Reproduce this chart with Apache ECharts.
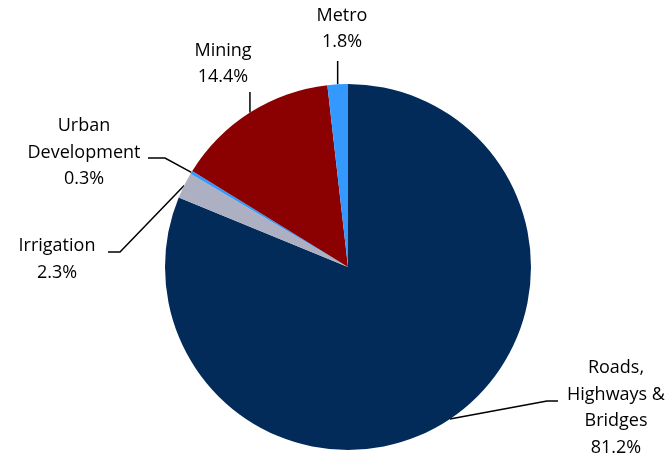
<!DOCTYPE html>
<html>
<head>
<meta charset="utf-8">
<script src="https://cdn.jsdelivr.net/npm/echarts@6/dist/echarts.min.js"></script>
<style>
html,body{margin:0;padding:0;background:#fff;}
#chart{width:669px;height:460px;}
</style>
</head>
<body>
<div id="chart"></div>
<script>
var categories = ['Roads,\nHighways &\nBridges', 'Irrigation', 'Urban\nDevelopment', 'Mining', 'Metro'];
var values = [81.2, 2.3, 0.3, 14.4, 1.8];
var valueLabels = ['81.2%', '2.3%', '0.3%', '14.4%', '1.8%'];
var colors = ['#032B5A', '#ADB0C2', '#3399FF', '#8B0000', '#3399FF'];

// label placement (layout only)
var labelPos = [
  {x: 616, y: 408, line: [[547, 401], [558, 401]]},
  {x: 57, y: 259.5, line: [[120, 252], [108, 252]]},
  {x: 84, y: 152.5, line: [[165, 158], [148, 158]]},
  {x: 223, y: 64, line: [[252, 92], [252, 92]]},
  {x: 342, y: 29, line: [[340, 61], [340, 61]]}
];

var chart = echarts.init(document.getElementById('chart'), null, {renderer: 'canvas'});
var data = categories.map(function (c, i) {
  return {name: c, value: values[i], itemStyle: {color: colors[i]}};
});
chart.setOption({
  animation: false,
  backgroundColor: '#fff',
  series: [{
    type: 'pie',
    center: [348, 267],
    radius: 183,
    startAngle: 90,
    clockwise: true,
    data: data,
    itemStyle: {borderWidth: 0},
    label: {
      show: true,
      formatter: function (p) { return p.name + '\n' + valueLabels[p.dataIndex]; },
      fontFamily: 'Open Sans',
      fontSize: 18,
      lineHeight: 26.7,
      color: '#000',
      align: 'center'
    },
    labelLine: {show: true, lineStyle: {color: '#000', width: 1.5}, length: 10, length2: 10},
    labelLayout: function (params) {
      var lp = labelPos[params.dataIndex];
      var p0 = params.labelLinePoints ? params.labelLinePoints[0] : null;
      var res = {x: lp.x, y: lp.y, align: 'center', verticalAlign: 'middle'};
      if (p0) {
        var pts = [p0].concat(lp.line);
        if (params.dataIndex === 3 || params.dataIndex === 4) {
          pts = [p0, [p0[0], lp.line[0][1]], [p0[0], lp.line[0][1]]];
        }
        res.labelLinePoints = pts;
      }
      return res;
    }
  }]
});
</script>
</body>
</html>
